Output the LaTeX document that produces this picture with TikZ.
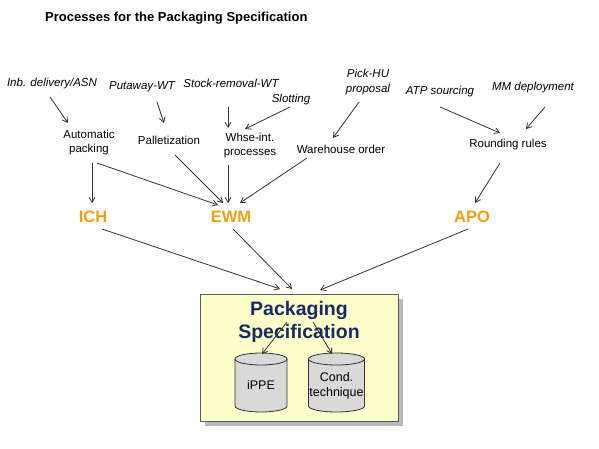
\documentclass[tikz,border=0pt]{standalone}
\usepackage{fontspec}
\setmainfont{Liberation Sans}
\usetikzlibrary{arrows.meta}
\definecolor{sapor}{RGB}{240,160,24}
\definecolor{navy}{RGB}{22,42,100}
\definecolor{boxfill}{RGB}{255,255,204}
\definecolor{cylfill}{RGB}{217,217,217}
\definecolor{linec}{RGB}{50,50,50}
\tikzset{
  lbl/.style={inner sep=0pt, align=center, font=\fontsize{11.5}{14}\selectfont},
  ilbl/.style={lbl, font=\fontsize{11.5}{14.5}\selectfont\itshape},
  sys/.style={inner sep=0pt, text=sapor, font=\fontsize{16.5}{18}\selectfont\bfseries},
  arr/.style={draw=linec, line width=0.8pt, -{Straight Barb[length=5pt,width=6pt]}},
  cyl/.style={fill=cylfill, draw=linec, line width=0.8pt},
}
\begin{document}
\begin{tikzpicture}[x=1pt,y=-1pt]
\useasboundingbox[fill=white] (0,0) rectangle (599,449);
% title
\node[inner sep=0pt, anchor=west, font=\fontsize{13}{15}\selectfont\bfseries] (title) at (45,18) {Processes for the Packaging Specification};
% top inputs
\node[ilbl] (inb) at (52,84) {Inb. delivery/ASN};
\node[ilbl] (put) at (142,87) {Putaway-WT};
\node[ilbl] (stock) at (231,83) {Stock-removal-WT};
\node[ilbl] (slot) at (291,100) {Slotting};
\node[ilbl] (pick) at (368,82) {Pick-HU\\proposal};
\node[ilbl] (atp) at (440,92) {ATP sourcing};
\node[ilbl] (mm) at (533,88) {MM deployment};
% processes
\node[lbl] (auto) at (89,143) {Automatic\\packing};
\node[lbl] (pall) at (169,140) {Palletization};
\node[lbl] (whse) at (250,146) {Whse-int.\\processes};
\node[lbl] (who) at (341,149) {Warehouse order};
\node[lbl] (round) at (508,145) {Rounding rules};
% systems
\node[sys] (ich) at (93,217) {ICH};
\node[sys] (ewm) at (231,217) {EWM};
\node[sys] (apo) at (472,217) {APO};
% packaging specification box
\fill[gray!55] (205,299) rectangle (403,426);
\draw[fill=boxfill, draw=linec!80, line width=0.8pt] (200,294) rectangle (398,421);
\node[inner sep=0pt, align=center, text=navy, font=\fontsize{19.5}{23}\selectfont\bfseries] (ps) at (299,322) {Packaging\\Specification};
% cylinders
\path[cyl] (235,359) -- (235,406) arc[start angle=180,end angle=0,x radius=26,y radius=6] -- (287,359) -- cycle;
\draw[cyl] (261,359) ellipse[x radius=26,y radius=6];
\path[cyl] (308.5,359) -- (308.5,406) arc[start angle=180,end angle=0,x radius=28,y radius=6] -- (364.5,359) -- cycle;
\draw[cyl] (336.5,359) ellipse[x radius=28,y radius=6];
\node[inner sep=0pt, font=\fontsize{12.5}{15}\selectfont] (ippe) at (261,385) {iPPE};
\node[inner sep=0pt, align=center, font=\fontsize{12.5}{15}\selectfont] (cond) at (336.5,386) {Cond.\\technique};
% connector end points
\coordinate (a1s) at (50,97);   \coordinate (a1e) at (68,123);
\coordinate (a2s) at (157,102); \coordinate (a2e) at (164,123);
\coordinate (a3s) at (228,107); \coordinate (a3e) at (228,128);
\coordinate (a4s) at (290,107); \coordinate (a4e) at (245,129);
\coordinate (a5s) at (359,102); \coordinate (a5e) at (333,138);
\coordinate (a6s) at (440,107); \coordinate (a6e) at (500,133);
\coordinate (a7s) at (545,107); \coordinate (a7e) at (526,129);
\coordinate (b1s) at (92,163);  \coordinate (b1e) at (92,203);
\coordinate (b2s) at (97,163);  \coordinate (b2e) at (218,205);
\coordinate (b3s) at (175,155); \coordinate (b3e) at (223,203);
\coordinate (b4s) at (228,165); \coordinate (b4e) at (228,203);
\coordinate (b5s) at (307,158); \coordinate (b5e) at (240,203);
\coordinate (b6s) at (500,163); \coordinate (b6e) at (475,203);
\coordinate (c1s) at (102,229); \coordinate (c1e) at (280,289);
\coordinate (c2s) at (233,229); \coordinate (c2e) at (292,289);
\coordinate (c3s) at (468,229); \coordinate (c3e) at (320,290);
\coordinate (d1s) at (287,322); \coordinate (d1e) at (262,354);
\coordinate (d2s) at (313,322); \coordinate (d2e) at (332,354);
% connectors
\draw[arr] (a1s) -- (a1e);
\draw[arr] (a2s) -- (a2e);
\draw[arr] (a3s) -- (a3e);
\draw[arr] (a4s) -- (a4e);
\draw[arr] (a5s) -- (a5e);
\draw[arr] (a6s) -- (a6e);
\draw[arr] (a7s) -- (a7e);
\draw[arr] (b1s) -- (b1e);
\draw[arr] (b2s) -- (b2e);
\draw[arr] (b3s) -- (b3e);
\draw[arr] (b4s) -- (b4e);
\draw[arr] (b5s) -- (b5e);
\draw[arr] (b6s) -- (b6e);
\draw[arr] (c1s) -- (c1e);
\draw[arr] (c2s) -- (c2e);
\draw[arr] (c3s) -- (c3e);
\draw[arr] (d1s) -- (d1e);
\draw[arr] (d2s) -- (d2e);
\end{tikzpicture}
\end{document}
